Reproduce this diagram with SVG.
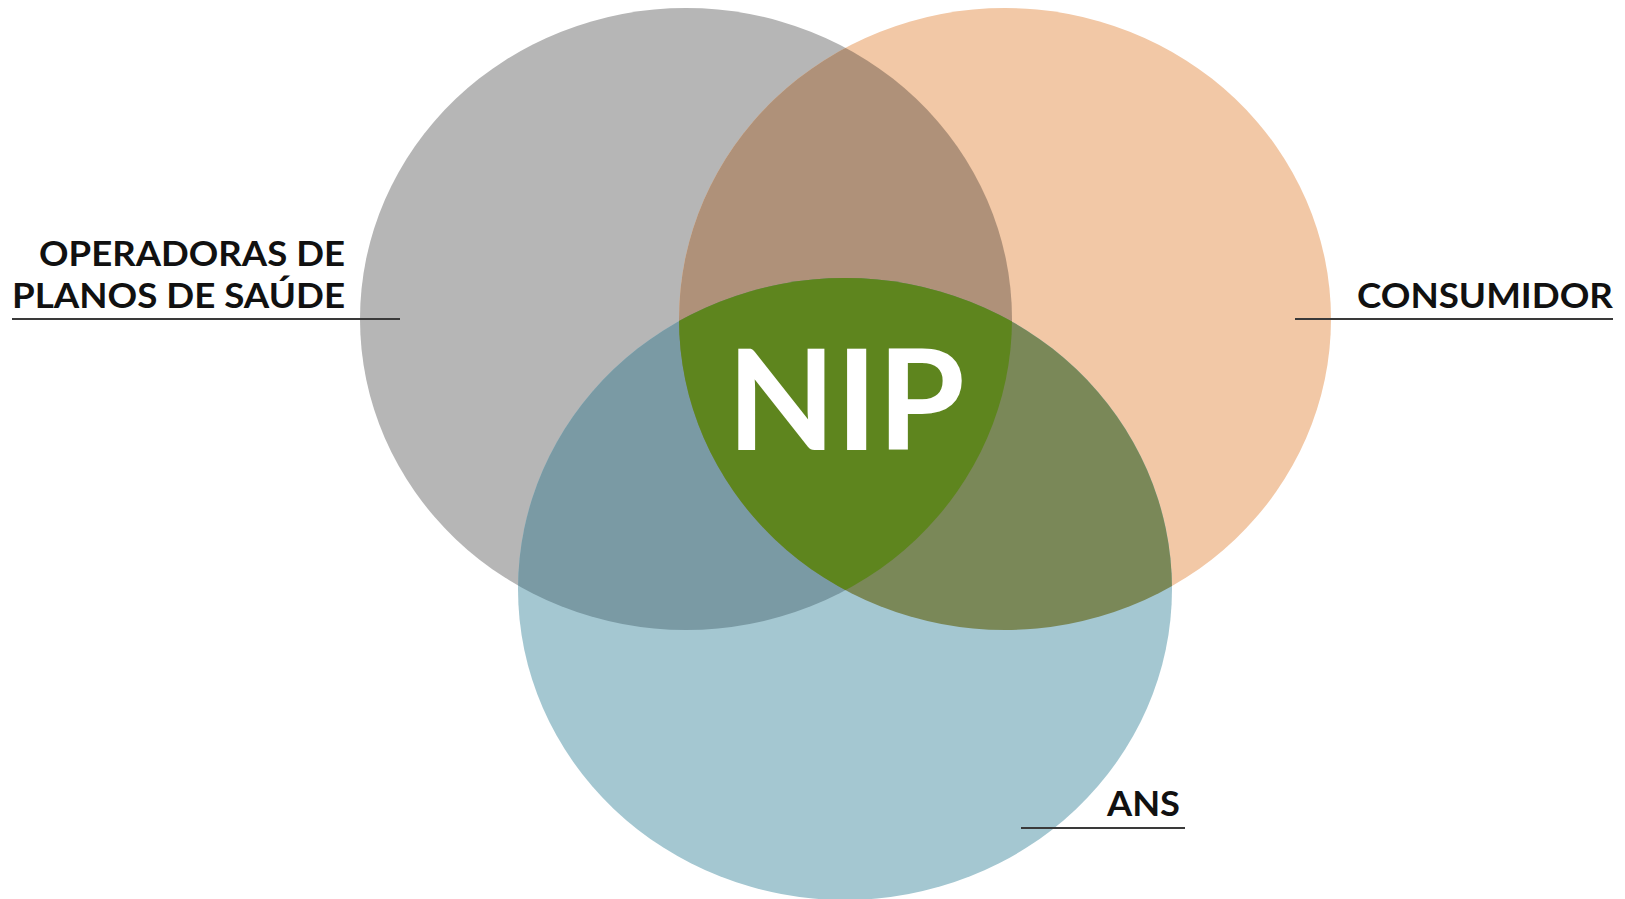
<svg xmlns="http://www.w3.org/2000/svg" width="1625" height="899" viewBox="0 0 1625 899">
<style>
.lbl{font-family:Lato,"Open Sans","Liberation Sans",sans-serif;font-weight:bold;font-size:35px;fill:#111;}
.rule{stroke:#3a3a3a;stroke-width:2;}
</style>
<defs>
<clipPath id="cg"><ellipse cx="686" cy="319" rx="326" ry="311"/></clipPath>
<clipPath id="co"><ellipse cx="1005" cy="319" rx="326" ry="311"/></clipPath>
</defs>
<rect width="1625" height="899" fill="#ffffff"/>
<g id="operadoras">
<ellipse cx="686" cy="319" rx="326" ry="311" fill="#b6b6b6"/>
</g>
<g id="consumidor">
<ellipse cx="1005" cy="319" rx="326" ry="311" fill="#f2c8a6"/>
</g>
<g id="ans">
<ellipse cx="845" cy="589" rx="327" ry="311" fill="#a4c7d1"/>
</g>
<g id="overlaps">
<ellipse cx="1005" cy="319" rx="326" ry="311" fill="#af9179" clip-path="url(#cg)"/>
<ellipse cx="845" cy="589" rx="327" ry="311" fill="#7a9aa4" clip-path="url(#cg)"/>
<ellipse cx="845" cy="589" rx="327" ry="311" fill="#7a8858" clip-path="url(#co)"/>
<g clip-path="url(#co)"><ellipse cx="845" cy="589" rx="327" ry="311" fill="#5e851e" clip-path="url(#cg)"/></g>
</g>
<g id="nip">
<text x="846" y="450" text-anchor="middle" font-family="Lato, Open Sans, Liberation Sans, sans-serif" font-weight="bold" font-size="140" fill="#ffffff" textLength="238" lengthAdjust="spacingAndGlyphs">NIP</text>
</g>
<g id="labels">
<text class="lbl" x="345" y="266" text-anchor="end" textLength="306" lengthAdjust="spacingAndGlyphs">OPERADORAS DE</text>
<text class="lbl" x="345" y="308" text-anchor="end" textLength="333" lengthAdjust="spacingAndGlyphs">PLANOS DE SAÚDE</text>
<text class="lbl" x="1613" y="308" text-anchor="end" textLength="256" lengthAdjust="spacingAndGlyphs">CONSUMIDOR</text>
<text class="lbl" x="1180" y="816" text-anchor="end" textLength="73" lengthAdjust="spacingAndGlyphs">ANS</text>
</g>
<g id="connectors">
<line class="rule" x1="12" y1="319" x2="400" y2="319"/>
<line class="rule" x1="1295" y1="319" x2="1613" y2="319"/>
<line class="rule" x1="1021" y1="828" x2="1185" y2="828"/>
</g>
</svg>
